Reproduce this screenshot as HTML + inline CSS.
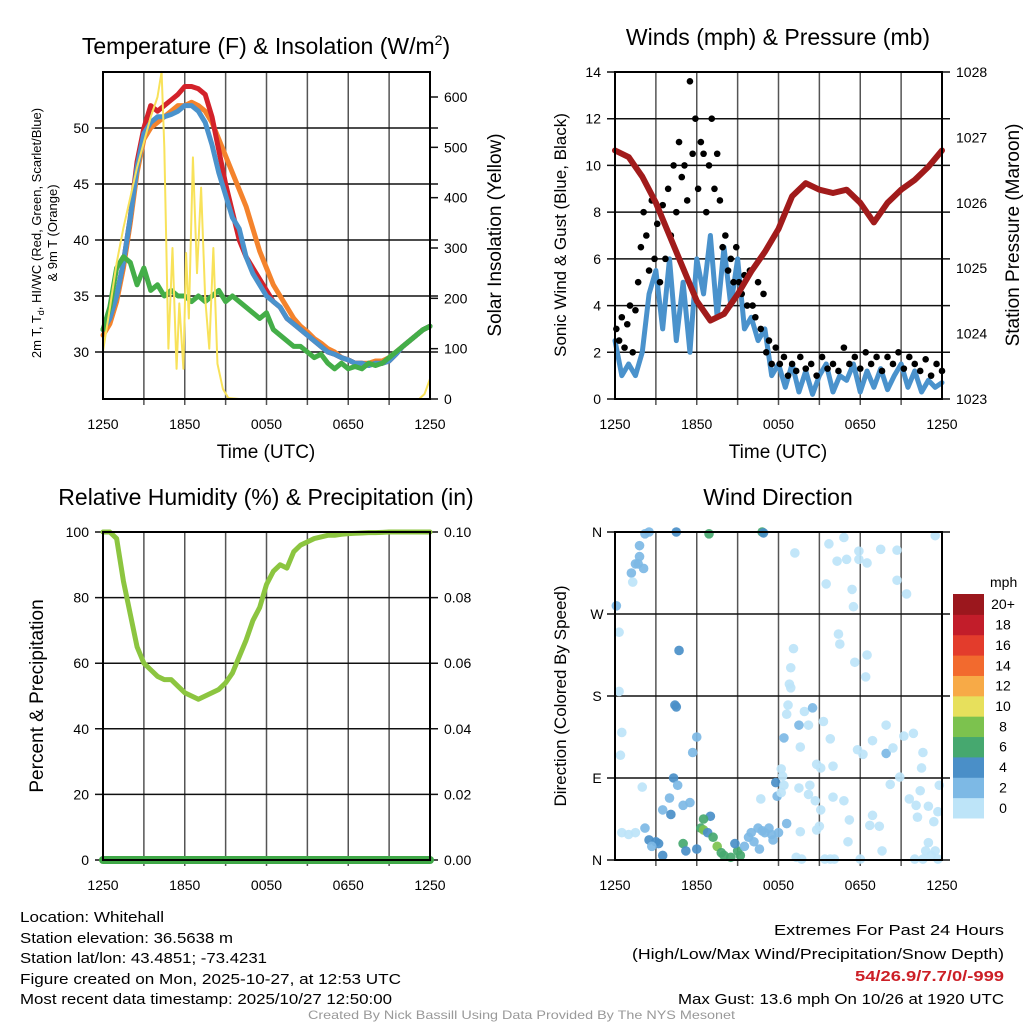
<!DOCTYPE html>
<html><head><meta charset="utf-8"><title>Whitehall Meteogram</title>
<style>
html,body{margin:0;padding:0;background:#fff;}
svg{display:block;font-family:"Liberation Sans",Arial,sans-serif;}
</style></head>
<body>
<svg id="fig" xmlns="http://www.w3.org/2000/svg" width="1024" height="1024" viewBox="0 0 1024 1024">
<rect width="1024" height="1024" fill="#fff"/>
<text x="266" y="54" font-size="23" text-anchor="middle">Temperature (F) &amp; Insolation (W/m<tspan font-size="14" dy="-9">2</tspan><tspan dy="9">)</tspan></text>
<text x="778" y="45" font-size="23" text-anchor="middle">Winds (mph) &amp; Pressure (mb)</text>
<text x="266" y="505" font-size="23" text-anchor="middle">Relative Humidity (%) &amp; Precipitation (in)</text>
<text x="778" y="505" font-size="23" text-anchor="middle">Wind Direction</text>
<text x="266" y="458" font-size="19" text-anchor="middle">Time (UTC)</text>
<text x="778" y="458" font-size="19" text-anchor="middle">Time (UTC)</text>
<g font-size="13" text-anchor="middle">
<text transform="translate(41,233) rotate(-90)">2m T, T<tspan font-size="9" dy="3">d</tspan><tspan dy="-3">, HI/WC (Red, Green, Scarlet/Blue)</tspan></text>
<text transform="translate(57,233) rotate(-90)">&amp; 9m T (Orange)</text>
</g>
<text transform="translate(501,235) rotate(-90)" font-size="19" text-anchor="middle">Solar Insolation (Yellow)</text>
<text transform="translate(566,235) rotate(-90)" font-size="17" text-anchor="middle">Sonic Wind &amp; Gust (Blue, Black)</text>
<text transform="translate(1019,235) rotate(-90)" font-size="19" text-anchor="middle">Station Pressure (Maroon)</text>
<text transform="translate(43,696) rotate(-90)" font-size="19" text-anchor="middle">Percent &amp; Precipitation</text>
<text transform="translate(566,696) rotate(-90)" font-size="17" text-anchor="middle">Direction (Colored By Speed)</text>
<g id="plots"></g>
<g id="cbar"></g>
<text x="990" y="587" font-size="14">mph</text>
<g font-size="15">
<text x="20" y="922" textLength="144" lengthAdjust="spacingAndGlyphs">Location: Whitehall</text>
<text x="20" y="943" textLength="213" lengthAdjust="spacingAndGlyphs">Station elevation: 36.5638 m</text>
<text x="20" y="963" textLength="247" lengthAdjust="spacingAndGlyphs">Station lat/lon: 43.4851; -73.4231</text>
<text x="20" y="984" textLength="381" lengthAdjust="spacingAndGlyphs">Figure created on Mon, 2025-10-27, at 12:53 UTC</text>
<text x="20" y="1004" textLength="372" lengthAdjust="spacingAndGlyphs">Most recent data timestamp: 2025/10/27 12:50:00</text>
</g>
<g font-size="15">
<text x="774" y="935" textLength="230" lengthAdjust="spacingAndGlyphs">Extremes For Past 24 Hours</text>
<text x="632" y="959" textLength="372" lengthAdjust="spacingAndGlyphs">(High/Low/Max Wind/Precipitation/Snow Depth)</text>
<text x="855" y="981" font-weight="bold" fill="#cc1f26" textLength="149" lengthAdjust="spacingAndGlyphs">54/26.9/7.7/0/-999</text>
<text x="678" y="1004" textLength="326" lengthAdjust="spacingAndGlyphs">Max Gust: 13.6 mph On 10/26 at 1920 UTC</text>
</g>
<text x="308" y="1019" font-size="12" fill="#999" textLength="427" lengthAdjust="spacingAndGlyphs">Created By Nick Bassill Using Data Provided By The NYS Mesonet</text>
</svg>
<script>
const halfHours = [0,0.5,1,1.5,2,2.5,3,3.5,4,4.5,5,5.5,6,6.5,7,7.5,8,8.5,9,9.5,10,10.5,11,11.5,12,12.5,13,13.5,14,14.5,15,15.5,16,16.5,17,17.5,18,18.5,19,19.5,20,20.5,21,21.5,22,22.5,23,23.5,24];
const timeTickLabels = ["1250","1850","0050","0650","1250"];
const tempRed = [32,33,35,38,42,47,50,52,51.5,52,52.5,53,53.7,53.7,53.5,53,51,48,45,42.5,40,38.5,37.5,36.5,35.5,34.5,34,33,32.5,32,31.5,31,30.5,30,29.8,29.5,29.3,29,29,28.8,29,29,29.2,29.8,30.5,31,31.5,32,32.3];
const tempOrange = [31.5,32.5,34.5,37.5,41.5,46,49,50,50.5,51,51.5,52,52,52.3,52,51.5,50.5,49,47.5,46,44.5,43,41,39,37.5,36,35,34,33,32.3,31.8,31.2,30.8,30.3,30,29.5,29.3,29,29,29,29.2,29.2,29.5,30,30.5,31,31.5,32,32.3];
const tempBlue = [32,33,35,38,42,46.5,49.5,50.5,51,51,51.2,51.5,52,52,51.5,50.5,48.5,46,44,42,41,38.5,37,36,35,34.5,34,33,32.5,32,31.5,31,30.5,30,29.8,29.5,29.3,29,29,28.8,29,29,29.2,29.8,30.5,31,31.5,32,32.3];
const dewGreen = [32,34,37.5,38.5,38,36,37.5,35.5,36,35,35.5,35,35,34.5,35,34.5,35,35.5,34.5,35,34.5,34,33.5,33,33.5,32,31.5,31,30.5,30.5,30,29.5,29.8,29,28.5,29,28.5,28.7,28.5,29,28.8,29,29.5,30,30.5,31,31.5,32,32.3];
const solarHours = [0,0.5,1,1.5,2,2.5,3,3.5,4,4.3,4.5,4.8,5.1,5.4,5.6,5.9,6.1,6.3,6.6,6.9,7.2,7.5,7.8,8.1,8.4,8.8,9.2,10,23.2,23.6,24];
const solarValues = [95,180,270,340,400,460,510,560,600,650,500,100,300,60,190,60,290,160,480,250,420,200,100,300,70,20,2,0,0,10,40];
const tempTicks = [30,35,40,45,50];
const solarTicks = [0,100,200,300,400,500,600];

const hours = [0,1,2,3,4,5,6,7,8,9,10,11,12,13,14,15,16,17,18,19,20,21,22,23,24];
const pressure = [1026.8,1026.7,1026.4,1026.0,1025.5,1025.0,1024.5,1024.2,1024.3,1024.6,1024.95,1025.25,1025.6,1026.1,1026.3,1026.2,1026.15,1026.2,1026.0,1025.7,1026.0,1026.2,1026.35,1026.55,1026.8];
const windSpeed = [2.5,1,1.5,1,2,4.5,5.5,3,6,2.5,5,2,6,4.5,7,3.5,6.5,4,6,3,3.5,2.5,3,1,1.5,0.5,1.5,0.3,1.2,0.2,1,1.5,0.3,1,0.8,1.5,0.3,1.2,0.5,1.3,0.4,1,1.5,0.5,1.2,0.3,0.8,0.5,0.7];
const gustHours = [0.1,0.3,0.5,0.7,0.9,1.1,1.3,1.5,1.7,1.9,2.1,2.3,2.5,2.7,2.9,3.1,3.3,3.5,3.7,3.9,4.1,4.3,4.5,4.7,4.9,5.1,5.3,5.5,5.7,5.9,6.1,6.3,6.5,6.7,6.9,7.1,7.3,7.5,7.7,7.9,8.1,8.3,8.5,8.7,8.9,9.1,9.3,9.5,9.7,9.9,10.1,10.3,10.5,10.7,10.9,11.1,11.3,11.5,11.8,12.1,12.4,12.7,13,13.3,13.6,14,14.4,14.8,15.2,15.6,16,16.4,16.8,17.2,17.6,18,18.4,18.8,19.2,19.6,20,20.4,20.8,21.2,21.6,22,22.4,22.8,23.2,23.6,24];
const gustValues = [3,2.5,3.5,2.2,3.2,4,2,3.8,5,6.5,8,7,5.5,8.5,6,7.5,5,8.3,6,9,7,10,8,11,9.5,10,8.5,13.6,10.5,12,9,11,10.5,8,10,12,9,10.5,8.5,6.5,7,5.5,6,5,6.5,5,4.5,5.3,4,5.5,4,3.5,5,3,4.5,2,2.5,1.5,2.2,1.5,1.8,1,1.5,1.2,1.8,1.3,1.5,1,1.8,1.3,1.5,1.2,2.2,1.5,1.8,1.3,2,1.5,1.8,1.2,1.8,1.5,2,1.3,1.8,1.5,1.2,1.7,1,1.5,1.2];
const windTicks = [0,2,4,6,8,10,12,14];
const pressureTicks = [1023,1024,1025,1026,1027,1028];

const rhValues = [100,100,98,85,75,65,60,58,56,55,55,53,51,50,49,50,51,52,54,57,62,67,73,77,84,88,90,89,94,96,97,98,98.5,99,99,99.3,99.5,99.6,99.7,99.8,99.8,99.9,100,100,100,100,100,100,100];
const precipValues = [0,0,0,0,0,0,0,0,0,0,0,0,0,0,0,0,0,0,0,0,0,0,0,0,0];
const rhTicks = [0,20,40,60,80,100];
const precipTickLabels = ["0.00","0.02","0.04","0.06","0.08","0.10"];

const dirHours = [0.1,0.3,0.3,0.5,0.4,2.5,2.2,1.8,1.8,1.5,1.2,1.7,1.3,2.1,4.5,6.9,10.8,10.9,4.7,4.4,4.5,6,5.7,4.3,4.6,2,4,5,5.5,3.5,4.1,7,6.5,0.5,1,1.5,2.2,2.5,3,3.2,2.7,3.5,5,5.2,6,6.3,6.5,6.8,7.2,7.5,7.8,8,8.5,9,9.2,8.8,9.5,9.8,10,10.5,10.8,11,11.5,12,11.8,11.9,12.2,12.3,10.2,10.6,11.3,11.6,12.6,13.2,15.7,16.8,16.3,17,17.9,17.9,18.5,19.5,20.7,23.5,20.7,21.4,15.5,17.4,17.5,16.4,16.5,17.6,18.5,18.4,13.1,12.9,12.8,12.9,12.7,12.6,13.9,14.5,14.2,13.6,12.4,13.5,15.3,15.8,14.8,15.1,16,17.8,18.2,18.9,19.9,20.4,21.2,21.9,22.6,22.5,22.4,23,23.7,23.4,23.8,20.2,20.9,21.6,22.1,22.2,23,22.8,23.5,19.6,19.4,18.7,18.9,17.2,17.1,16.8,16,15.1,14.7,14.2,13.5,12.4,12.2,15,14.8,13.6,13.3,13.7,15.4,15.8,16.1,18,22,22.6,23.7,23.2,14.3,10.7,19.9];
const dirDegrees = [279,250,185,140,115,360,358,345,333,325,315,325,305,320,360,358,360,359,230,170,168,135,118,90,82,80,68,60,63,55,50,48,45,30,28,30,35,22,20,18,15,5,18,10,12,35,33,30,25,15,8,5,3,10,5,18,15,25,30,35,32,30,28,30,85,70,100,92,20,12,35,22,40,337,347,354,328,330,339,330,326,341,340,356,307,292,303,297,278,248,237,217,225,201,232,211,193,189,170,160,163,167,148,124,134,148,152,133,105,101,103,121,116,131,117,123,136,139,118,101,76,59,53,42,82,83,91,67,60,47,19,10,10,10,37,38,49,44,20,65,69,55,65,72,79,82,74,37,33,31,3,1,1,1,1,1,1,1,1,5,82,67,148];
const dirSpeeds = [3,1,1,1,1,3,3,3,3,3,3,3,1,3,5,7,6,5,4,5,5,3,3,5,3,1,3,3,3,3,5,4,6,1,1,0,3,4,5,4,3,4,6,5,5,7,8,5,6,8,6,6,6,6,7,4,3,3,3,2,3,2,2,2,4,3,1,1,3,2,3,2,2,1,1,1,1,1,1,1,1,1,1,1,1,1,1,1,1,1,1,1,1,1,1,1,1,1,1,1,1,3,1,1,3,3,1,1,1,1,1,1,1,1,3,1,1,1,1,1,1,1,1,1,1,1,1,1,1,1,1,1,1,1,1,1,1,1,1,1,1,1,1,1,1,1,1,1,1,1,1,1,1,1,1,1,1,1,1,1,1,1,1];
const dirTickLabels = ["N","E","S","W","N"];
const cbarLabels = ["0","2","4","6","8","10","12","14","16","18","20+"];
const cbarColors = ["#bde4f8","#7db9e5","#4a8fc8","#46a86f","#7cc24e","#e7e05c","#f7aa47","#f26a2e","#e33c2c","#c21d2a","#9b171d"];

const NS = "http://www.w3.org/2000/svg";
const plots = document.getElementById("plots");
function mk(tag, attrs, parent){ const e=document.createElementNS(NS,tag); for(const k in attrs) e.setAttribute(k,attrs[k]); (parent||plots).appendChild(e); return e; }
function scale(d0,d1,r0,r1){ return v => r0 + (v-d0)/(d1-d0)*(r1-r0); }

function frame(name){
  const g = mk("g",{});
  
  
  return g;
}
function vgrid(g,x,T,B){
  for(let h=3;h<24;h+=3){ const X=x(h); const l=mk("line",{x1:X,y1:T,x2:X,y2:B+6,stroke:"#555","stroke-width":1.5},g);
    
     }
  timeTickLabels.forEach((lab,i)=>{ const X=x(i*6);
    const t=mk("text",{x:X,y:B+30,"font-size":14,"text-anchor":"middle"},g); t.textContent=lab;
    
    
  });
}
function hline(g,y,L,R,name){ const l=mk("line",{x1:L-8,y1:y,x2:R+8,y2:y,stroke:"#111","stroke-width":1.5},g);
  
   }
function label(g,x,y,txt,anchor,name){ const t=mk("text",{x:x,y:y+5,"font-size":14,"text-anchor":anchor},g); t.textContent=txt;
  
   }
function poly(g,xs,ys,color,w,name){ const pts=xs.map((v,i)=>v+","+ys[i]).join(" ");
  const p=mk("polyline",{points:pts,fill:"none",stroke:color,"stroke-width":w,"stroke-linejoin":"round","stroke-linecap":"round"},g);
  
   return p; }
function box(g,L,T,R,B){ const r=mk("rect",{x:L,y:T,width:R-L,height:B-T,fill:"none",stroke:"#000","stroke-width":2},g);
  
   }

(function(){
  const L=103,R=430,T=72,B=399;
  const g=frame("temperature-panel");
  const x=scale(0,24,L,R), y=scale(30,50,352,128), ys=scale(0,600,399,97);
  vgrid(g,x,T,B);
  tempTicks.forEach(v=>{ hline(g,y(v),L,R,"temp-gridline"); label(g,L-14,y(v),String(v),"end","temp-tick-label"); });
  solarTicks.forEach(v=>{ const l=mk("line",{x1:R,y1:ys(v),x2:R+8,y2:ys(v),stroke:"#111","stroke-width":1.5},g);
    
    
    label(g,R+14,ys(v),String(v),"start","solar-tick-label"); });
  poly(g,halfHours.map(x),tempOrange.map(y),"#f4832c",5,"temp-9m-orange-line");
  poly(g,halfHours.map(x),tempRed.map(y),"#d3222a",5,"temp-2m-red-line");
  poly(g,halfHours.map(x),tempBlue.map(y),"#4a92cc",5,"heat-index-wind-chill-blue-line");
  poly(g,halfHours.map(x),dewGreen.map(y),"#44ae48",5,"dewpoint-green-line");
  poly(g,solarHours.map(x),solarValues.map(ys),"#f8e25a",2,"solar-insolation-line");
  box(g,L,T,R,B);
})();

(function(){
  const L=615,R=942,T=72,B=399;
  const g=frame("wind-panel");
  const x=scale(0,24,L,R), y=scale(0,14,399,72), yp=scale(1023,1028,399,72);
  vgrid(g,x,T,B);
  windTicks.forEach(v=>{ hline(g,y(v),L,R,"wind-gridline"); label(g,L-14,y(v),String(v),"end","wind-tick-label"); });
  pressureTicks.forEach(v=>{ label(g,R+14,yp(v),String(v),"start","pressure-tick-label"); });
  poly(g,halfHours.map(x),windSpeed.map(y),"#4a92cc",5,"sonic-wind-line");
  gustHours.forEach((h,i)=>{ const c=mk("circle",{cx:x(h),cy:y(gustValues[i]),r:3.3,fill:"#000"},g);
    
     });
  poly(g,hours.map(x),pressure.map(yp),"#a11b1b",6,"station-pressure-line");
  box(g,L,T,R,B);
})();

(function(){
  const L=103,R=430,T=532,B=860;
  const g=frame("humidity-panel");
  const x=scale(0,24,L,R), y=scale(0,100,860,532);
  vgrid(g,x,T,B);
  rhTicks.forEach((v,i)=>{ hline(g,y(v),L,R,"rh-gridline"); label(g,L-14,y(v),String(v),"end","rh-tick-label");
    label(g,R+14,y(v),precipTickLabels[i],"start","precip-tick-label"); });
  poly(g,halfHours.map(x),rhValues.map(y),"#8cc540",5,"relative-humidity-line");
  poly(g,hours.map(x),precipValues.map(v=>y(v*1000)),"#3fa847",8,"precipitation-line");
  box(g,L,T,R,B);
})();

(function(){
  const L=615,R=942,T=532,B=860;
  const g=frame("direction-panel");
  const x=scale(0,24,L,R), y=scale(0,360,860,532);
  vgrid(g,x,T,B);
  dirTickLabels.forEach((lab,i)=>{ hline(g,y(i*90),L,R,"direction-gridline"); label(g,L-18,y(i*90),lab,"middle","direction-tick-label"); });
  dirHours.forEach((h,i)=>{
    const sp=dirSpeeds[i]; const bin=Math.min(10,Math.floor(sp/2));
    const c=mk("circle",{cx:x(h),cy:y(dirDegrees[i]),r:4.8,fill:cbarColors[bin],opacity:0.92},g);
    
    
  });
  box(g,L,T,R,B);
  const cb=document.getElementById("cbar");
  const cbTop=594, cbBot=818, n=cbarLabels.length, h=(cbBot-cbTop)/n;
  cbarLabels.forEach((lab,i)=>{
    const yy=cbBot-(i+1)*h;
    const r=mk("rect",{x:953,y:yy,width:31,height:h+0.5,fill:cbarColors[i]},cb);
    
    
    const t=mk("text",{x:1003,y:yy+h/2+5,"font-size":14,"text-anchor":"middle"},cb); t.textContent=lab;
    
    
  });
})();
</script>
</body></html>
